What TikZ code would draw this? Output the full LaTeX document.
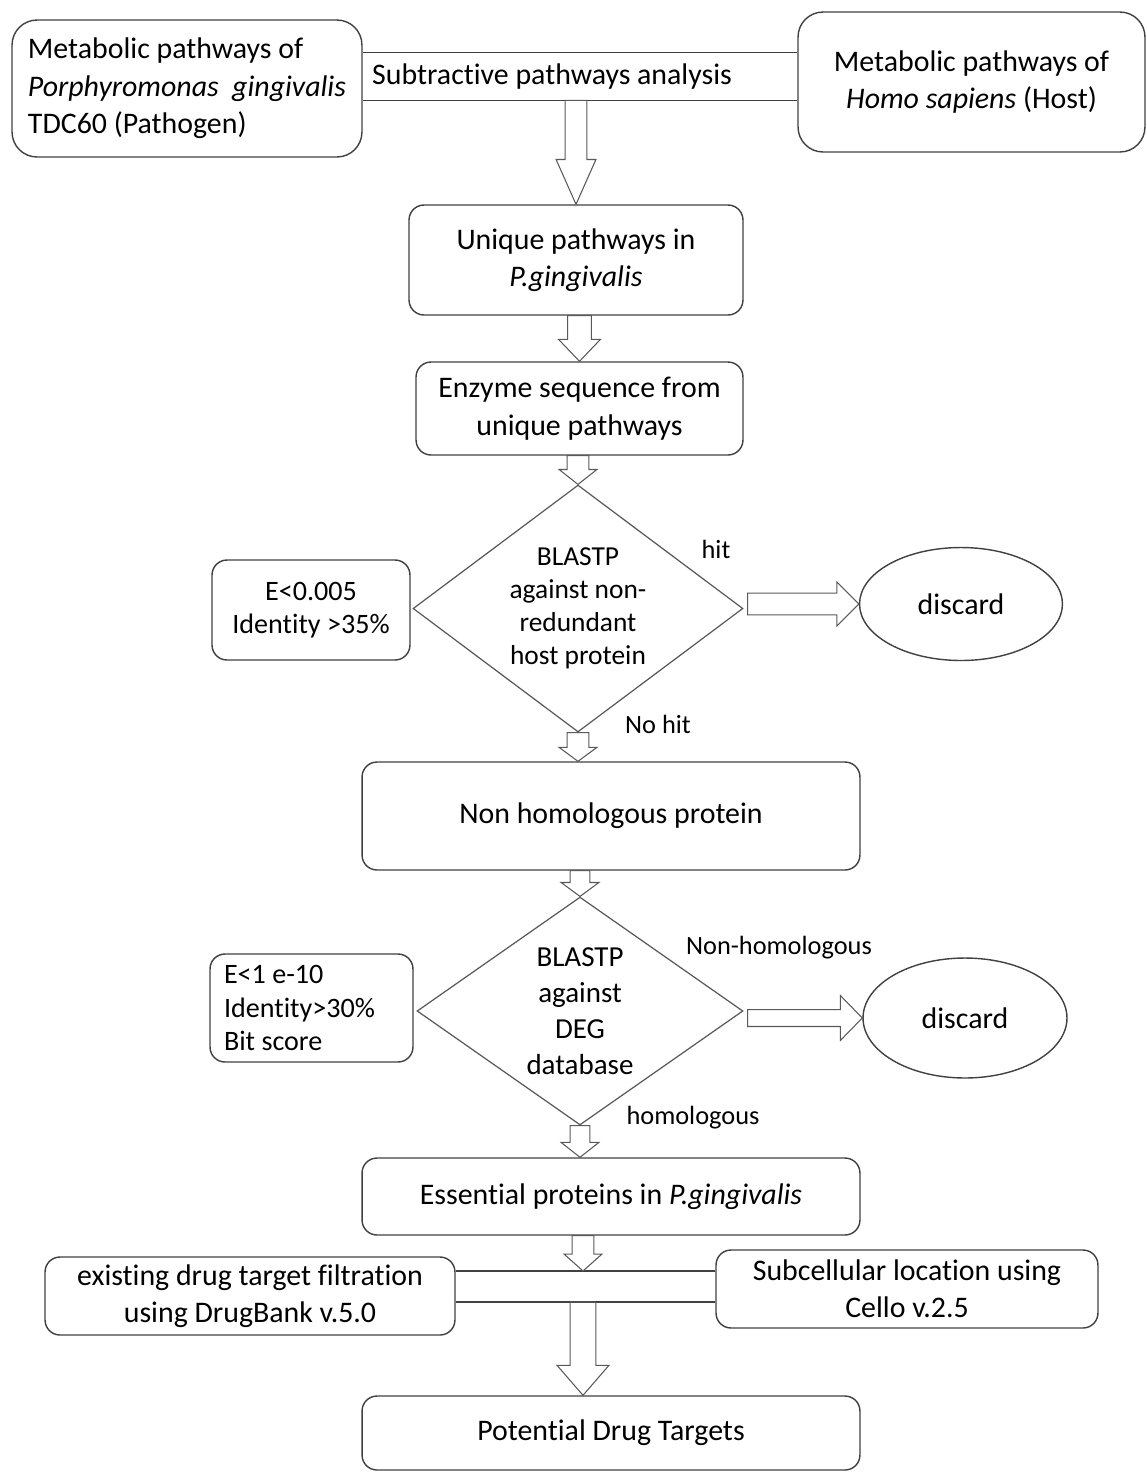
\documentclass[tikz,border=0pt]{standalone}
\usepackage{fontspec}
\setmainfont{Carlito}[Ligatures=NoCommon]
\usetikzlibrary{calc,shapes.geometric}
\newcommand{\pxu}{0.5669pt}
\tikzset{
	box/.style={draw=black!75, line width=0.8pt, rounded corners=0.3cm, align=center, inner sep=0pt,
			font=\fontsize{17}{21.3}\selectfont},
	bigbox/.style={box, rounded corners=0.5cm},
	critbox/.style={box, font=\fontsize{16}{19.2}\selectfont},
	decision/.style={diamond, draw=black!65, line width=0.7pt, inner sep=0pt},
	dectext/.style={align=center, inner sep=0pt},
	outcome/.style={ellipse, draw=black!75, line width=0.8pt, inner sep=0pt,
			font=\fontsize{17}{21}\selectfont},
	edgelabel/.style={font=\fontsize{15}{18}\selectfont, inner sep=0pt},
	bandline/.style={draw=black!75, line width=0.8pt},
	hollow/.style={draw=black!65, line width=0.6pt, line join=miter}
}
% block arrows: #1 start, #2 tip, #3 shaft half width, #4 head half width, #5 head length (px)
\newcommand{\hollowdown}[5]{%
	\draw[hollow] let \p1=#1, \p2=#2 in
		(\x2-#3*\pxu,\y1) -- (\x2-#3*\pxu,\y2+#5*\pxu) -- (\x2-#4*\pxu,\y2+#5*\pxu) -- (\x2,\y2)
		-- (\x2+#4*\pxu,\y2+#5*\pxu) -- (\x2+#3*\pxu,\y2+#5*\pxu) -- (\x2+#3*\pxu,\y1) -- cycle;}
\newcommand{\hollowright}[5]{%
	\draw[hollow] let \p1=#1, \p2=#2 in
		(\x1,\y2+#3*\pxu) -- (\x2-#5*\pxu,\y2+#3*\pxu) -- (\x2-#5*\pxu,\y2+#4*\pxu) -- (\x2,\y2)
		-- (\x2-#5*\pxu,\y2-#4*\pxu) -- (\x2-#5*\pxu,\y2-#3*\pxu) -- (\x1,\y2-#3*\pxu) -- cycle;}

\begin{document}
\begin{tikzpicture}[x=0.02cm, y=-0.02cm]
	\useasboundingbox (0,0) rectangle (1147,1472);

	\node[bigbox, align=flush left, minimum width=7cm, minimum height=2.74cm] (patho) at (187,88.5)
		{Metabolic pathways of\\\textit{Porphyromonas\ \ gingivalis}\\TDC60 (Pathogen)};
	\node[bigbox, minimum width=6.94cm, minimum height=2.8cm] (host) at (971.5,82)
		{Metabolic pathways of\\\textit{Homo sapiens} (Host)};
	\node[font=\fontsize{17}{21}\selectfont, minimum height=0.94cm, inner sep=0pt] (band) at (552,76.5)
		{Subtractive pathways analysis};
	\draw[bandline] (patho.east |- band.north) -- (host.west |- band.north);
	\draw[bandline] (patho.east |- band.south) -- (host.west |- band.south);

	\node[box, minimum width=6.68cm, minimum height=2.2cm] (uniq) at (576,260)
		{Unique pathways in\\\textit{P.gingivalis}};
	\node[box, minimum width=6.54cm, minimum height=1.86cm] (enz) at (579.5,408.5)
		{Enzyme sequence from\\unique pathways};

	\node[decision, minimum width=6.6cm, minimum height=4.94cm,
		label={[dectext, font=\fontsize{15.6}{18.7}\selectfont]center:{BLASTP\\against non-\\redundant\\host protein}}]
		(dia1) at (578,608.5) {};
	\node[critbox, minimum width=3.96cm, minimum height=2cm] (crit1) at (311,610)
		{E<0.005\\Identity >35\%};
	\node[outcome, minimum width=4.06cm, minimum height=2.26cm] (disc1) at (961,604) {discard};
	\node[edgelabel] (hit) at (716,549) {hit};
	\node[edgelabel] (nohit) at (658,724) {No hit};

	\node[box, minimum width=9.96cm, minimum height=2.16cm] (nonhom) at (611,816)
		{Non homologous protein};

	\node[decision, minimum width=6.52cm, minimum height=4.56cm,
		label={[dectext, font=\fontsize{16.5}{20.4}\selectfont]center:{BLASTP\\against\\DEG\\database}}]
		(dia2) at (580,1011) {};
	\node[critbox, align=flush left, text width=3.5cm, minimum width=4.06cm, minimum height=2.16cm] (crit2) at (311.5,1008)
		{E<1 e-10\\Identity>30\%\\Bit score};
	\node[outcome, minimum width=4.08cm, minimum height=2.4cm] (disc2) at (965,1018) {discard};
	\node[edgelabel] (nonhomlab) at (779,948) {Non-homologous};
	\node[edgelabel] (homlab) at (693,1118) {homologous};

	\node[box, minimum width=9.96cm, minimum height=1.54cm] (ess) at (611,1196.5)
		{Essential proteins in \textit{P.gingivalis}};
	\node[box, minimum width=8.2cm, minimum height=1.56cm] (drug) at (250,1296)
		{existing drug target filtration\\using DrugBank v.5.0};
	\node[box, minimum width=7.64cm, minimum height=1.56cm] (cello) at (907,1289)
		{Subcellular location using\\Cello v.2.5};
	\coordinate (jtop) at (583,1271);
	\coordinate (jbot) at (583,1302);
	\draw[bandline] (drug.east |- jtop) -- (cello.west |- jtop);
	\draw[bandline] (drug.east |- jbot) -- (cello.west |- jbot);
	\node[box, minimum width=9.96cm, minimum height=1.48cm] (pot) at (611,1433)
		{Potential Drug Targets};

	\hollowdown{(band.south)}{(uniq.north)}{11}{20}{45}
	\hollowdown{(uniq.south)}{(enz.north)}{12}{21}{22}
	\hollowdown{(enz.south)}{(dia1.north)}{11}{19}{15}
	\hollowdown{(dia1.south)}{(dia1.south |- nonhom.north)}{11}{19}{14}
	\hollowdown{(nonhom.south)}{(dia2.north)}{10}{19}{14}
	\hollowdown{(dia2.south)}{(dia2.south |- ess.north)}{10}{19}{15}
	\hollowdown{(ess.south)}{(jtop)}{11}{19}{17}
	\hollowdown{(jbot)}{(jbot |- pot.north)}{13}{26}{30}
	\hollowright{([xshift=0.08cm]dia1.east)}{(disc1.west)}{11}{22}{22}
	\hollowright{([xshift=0.08cm]dia2.east)}{(disc2.west)}{8.5}{22.5}{22}
\end{tikzpicture}
\end{document}
